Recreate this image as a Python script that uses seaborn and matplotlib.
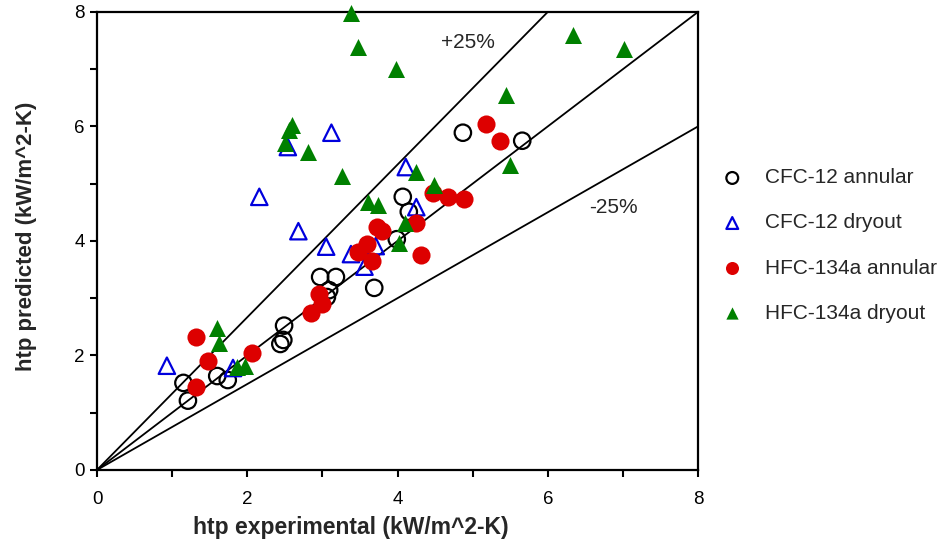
import numpy as np
import pandas as pd
import matplotlib
matplotlib.use("Agg")
import matplotlib.pyplot as plt
import seaborn as sns

# Measured vs predicted heat transfer coefficients (kW/m^2-K)
cfc_annular_exp = [1.15, 1.21, 1.60, 1.74, 2.44, 2.48, 2.49, 2.97, 3.18, 3.09, 3.06,
                   3.69, 3.99, 4.07, 4.15, 4.87, 5.66]
cfc_annular_pred = [1.52, 1.21, 1.64, 1.57, 2.20, 2.27, 2.52, 3.37, 3.37, 3.14, 3.02,
                    3.18, 4.03, 4.77, 4.51, 5.89, 5.75]

cfc_dryout_exp = [0.93, 1.81, 2.16, 2.68, 2.54, 3.12, 3.05, 3.38, 3.71, 3.56, 4.11, 4.25]
cfc_dryout_pred = [1.82, 1.78, 4.77, 4.17, 5.64, 5.89, 3.90, 3.77, 3.91, 3.55, 5.29, 4.59]

hfc_annular_exp = [1.32, 1.48, 1.32, 2.06, 2.85, 2.96, 3.00, 3.48, 3.60, 3.66, 3.73,
                   3.79, 4.25, 4.31, 4.47, 4.67, 4.89, 5.18, 5.37]
hfc_annular_pred = [2.32, 1.90, 1.45, 2.04, 2.74, 3.07, 2.90, 3.81, 3.95, 3.65, 4.24,
                    4.17, 4.31, 3.76, 4.84, 4.77, 4.73, 6.04, 5.75]

hfc_dryout_exp = [3.38, 3.48, 3.98, 2.60, 2.56, 2.50, 2.81, 3.26, 3.61, 3.74, 4.10,
                  4.02, 4.25, 4.49, 6.34, 7.02, 5.45, 5.50, 1.60, 1.62, 1.86, 1.97]
hfc_dryout_pred = [7.98, 7.39, 7.00, 6.03, 5.94, 5.71, 5.56, 5.14, 4.68, 4.63, 4.31,
                   3.97, 5.21, 4.98, 7.60, 7.35, 6.55, 5.33, 2.48, 2.22, 1.80, 1.82]

series_names = ["CFC-12 annular", "CFC-12 dryout", "HFC-134a annular", "HFC-134a dryout"]
band_labels = ["+25%", "-25%"]
tick_values = [0, 2, 4, 6, 8]

frames = []
for name, xs, ys in zip(series_names,
                        [cfc_annular_exp, cfc_dryout_exp, hfc_annular_exp, hfc_dryout_exp],
                        [cfc_annular_pred, cfc_dryout_pred, hfc_annular_pred, hfc_dryout_pred]):
    frames.append(pd.DataFrame({"exp": xs, "pred": ys, "series": name}))
df = pd.concat(frames, ignore_index=True)

sns.set_style("ticks")
plt.rcParams["font.family"] = ["Liberation Sans", "DejaVu Sans"]

fig = plt.figure(figsize=(9.42, 5.42), dpi=100)
ax = fig.add_axes([0.103, 0.133, 0.638, 0.845])

# parity line and +/-25% band
xline = np.array([0.0, 8.0])
ax.plot(xline, xline, color="black", lw=1.3, zorder=1)
ax.plot(xline, xline / 0.75, color="black", lw=1.3, zorder=1)
ax.plot(xline, xline * 0.75, color="black", lw=1.3, zorder=1)

styles = {
    "CFC-12 annular": dict(marker="o", s=140, facecolor="none", edgecolor="black", linewidth=1.6),
    "CFC-12 dryout": dict(marker="^", s=140, facecolor="none", edgecolor="#0000dd", linewidth=1.6),
    "HFC-134a annular": dict(marker="o", s=170, color="#dd0000", edgecolor="#dd0000", linewidth=0),
    "HFC-134a dryout": dict(marker="^", s=150, color="#008000", edgecolor="#008000", linewidth=0),
}
for i, name in enumerate(series_names):
    sub = df[df["series"] == name]
    sns.scatterplot(data=sub, x="exp", y="pred", ax=ax, label=name, zorder=3 + i,
                    clip_on=False, **styles[name])

ax.text(4.94, 7.46, band_labels[0], fontsize=15, ha="center", va="center")
ax.text(6.88, 4.58, band_labels[1], fontsize=15, ha="center", va="center")

ax.set_xlim(0, 8)
ax.set_ylim(0, 8)
ax.set_xticks(tick_values)
ax.set_yticks(tick_values)
ax.set_xticks([1, 3, 5, 7], minor=True)
ax.set_yticks([1, 3, 5, 7], minor=True)
ax.tick_params(which="both", direction="out", length=5, width=1.5, colors="black")
ax.tick_params(which="major", labelsize=13.5)
ax.tick_params(axis="x", which="major", pad=10)
ax.tick_params(axis="y", which="major", pad=4)
for sp in ax.spines.values():
    sp.set_visible(True)
    sp.set_linewidth(1.6)
    sp.set_color("black")

ax.set_xlabel("htp experimental (kW/m^2-K)", fontsize=16.5, fontweight="bold")
ax.set_ylabel("htp predicted (kW/m^2-K)", fontsize=16, fontweight="bold")
ax.xaxis.set_label_coords(0.422, -0.10)
ax.yaxis.set_label_coords(-0.10, 0.51)

leg = ax.legend(loc="center left", bbox_to_anchor=(1.005, 0.49), frameon=False,
                fontsize=15, markerscale=0.72, handletextpad=0.98, labelspacing=1.25,
                handlelength=1.2)

fig.savefig("out.png", dpi=100)
